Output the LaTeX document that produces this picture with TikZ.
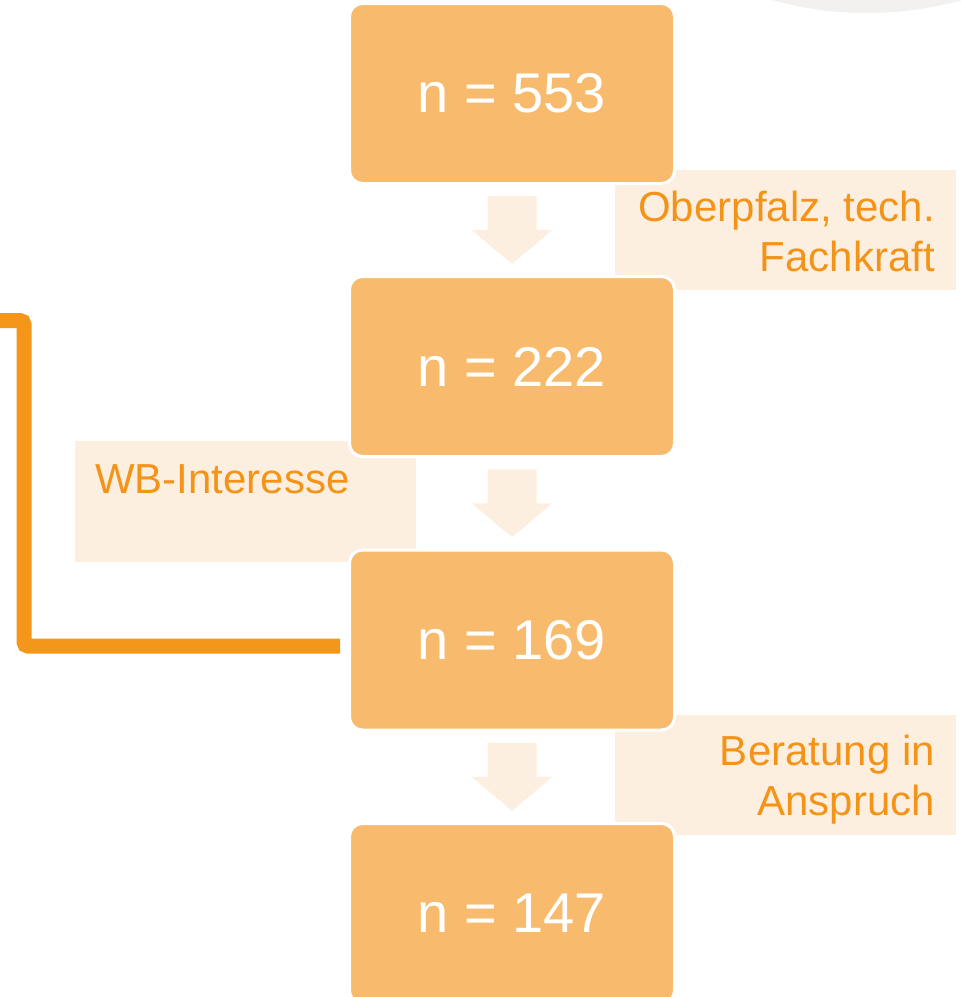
\documentclass[tikz,border=0pt]{standalone}
\usepackage{fontspec}
\setmainfont{Liberation Sans}
\usetikzlibrary{calc}
\definecolor{boxfill}{HTML}{F8BB6D}
\definecolor{lightfill}{HTML}{FDEFE0}
\definecolor{orangetext}{HTML}{F39419}
\definecolor{orangeline}{HTML}{F4961A}
\definecolor{greyarc}{HTML}{F2F1EF}
\tikzset{
  nbox/.style={rectangle, rounded corners=13pt, fill=boxfill, draw=white, line width=3pt,
    minimum width=325pt, minimum height=180pt, inner sep=0pt, text=white,
    font=\fontsize{56}{60}\selectfont},
  labelbox/.style={rectangle, fill=lightfill, inner sep=0pt, anchor=north west},
  labeltext/.style={text=orangetext, inner sep=0pt, font=\fontsize{42}{50}\selectfont},
  blockarrow/.style={fill=lightfill},
  conn/.style={draw=orangeline, line width=15pt, rounded corners=4pt}
}
\begin{document}
\begin{tikzpicture}[x=1pt,y=-1pt]
\useasboundingbox (0,0) rectangle (961,997);
% grey arc in the top right corner
\fill[greyarc] (867,-340) circle (353pt);
% label backgrounds
\node[labelbox, minimum width=341pt, minimum height=120pt] (l1) at (615,170) {};
\node[labelbox, minimum width=341pt, minimum height=121pt] (l2) at (75,441) {};
\node[labelbox, minimum width=341pt, minimum height=120pt] (l3) at (615,715) {};
% label texts
\node[labeltext, anchor=north east, align=right] (t1) at (935,191) {Oberpfalz, tech.\\Fachkraft};
\node[labeltext, anchor=base west] (t2) at (95,493) {WB-Interesse};
\node[labeltext, anchor=north east, align=right] (t3) at (935,735) {Beratung in\\Anspruch};
% boxes
\node[nbox] (b1) at (512,93.5) {n = 553};
\node[nbox] (b2) at (512,366.5) {n = 222};
\node[nbox] (b3) at (512,640) {n = 169};
\node[nbox] (b4) at (512,913.5) {n = 147};
% block arrows
\coordinate (m1) at ($(b1.south)!0.5!(b2.north)$);
\coordinate (m2) at ($(b2.south)!0.5!(b3.north)$);
\coordinate (m3) at ($(b3.south)!0.5!(b4.north)$);
\foreach \m in {m1,m2,m3}{
  \fill[blockarrow] (\m) ++(-24.5,-34) -- ++(49,0) -- ++(0,34) -- ++(16,0)
    -- ++(-40.5,34) -- ++(-40.5,-34) -- ++(16,0) -- cycle;
}
% orange connector
\coordinate (corner) at (24,320.5);
\coordinate (lend) at (-3,320.5);
\draw[conn, shorten <=8pt] ([yshift=-6pt]b3.west) -| (corner) -- (lend);
\end{tikzpicture}
\end{document}
